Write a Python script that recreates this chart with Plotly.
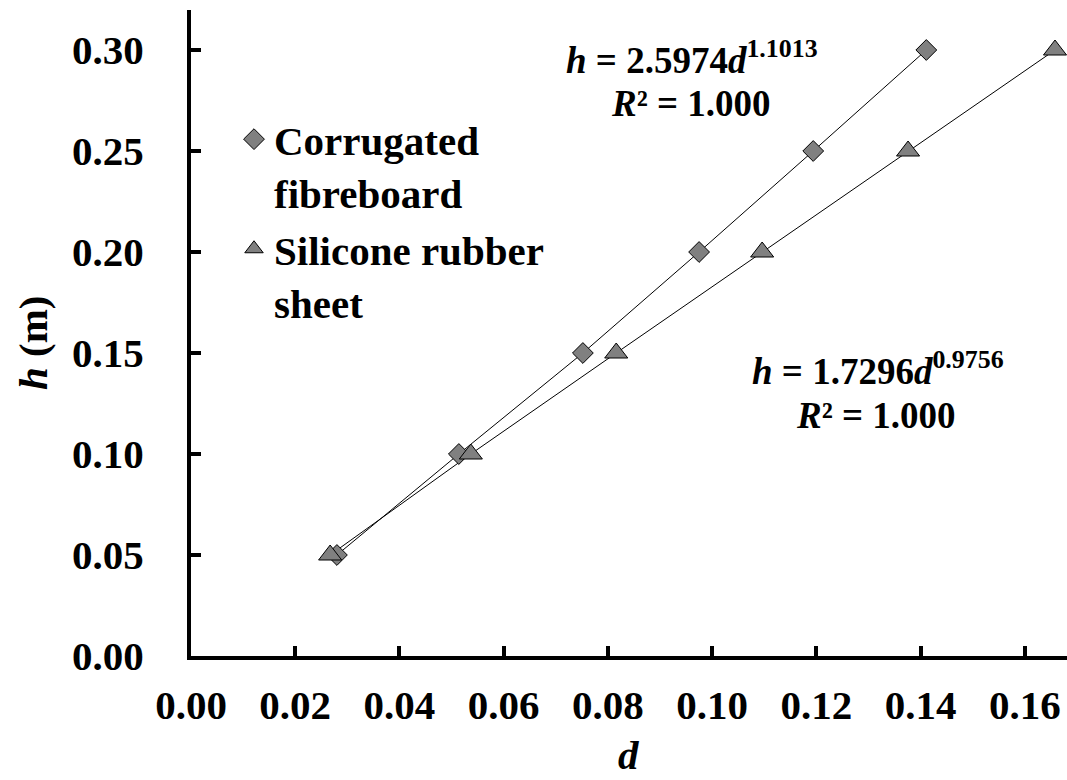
import plotly.graph_objects as go

d_corr = [0.0280, 0.0514, 0.0752, 0.0975, 0.1194, 0.1411]
h_corr = [0.05, 0.10, 0.15, 0.20, 0.25, 0.30]
d_sil = [0.0267, 0.0537, 0.0816, 0.1096, 0.1376, 0.1658]
h_sil = [0.05, 0.10, 0.15, 0.20, 0.25, 0.30]

x_ticks = [0.00, 0.02, 0.04, 0.06, 0.08, 0.10, 0.12, 0.14, 0.16]
y_ticks = [0.00, 0.05, 0.10, 0.15, 0.20, 0.25, 0.30]

FONT = "Times New Roman, Liberation Serif, serif"
GRAY = "#808080"

# plot area in pixels
L, T, B, W = 191, 10, 656, 876
H = B - T


def px(xp):
    return (xp - L) / W


def py(yp):
    return (B - yp) / H


fig = go.Figure()
fig.add_trace(go.Scatter(x=d_corr, y=h_corr, mode="lines",
                         line=dict(color="black", width=1), showlegend=False, hoverinfo="skip"))
fig.add_trace(go.Scatter(x=d_sil, y=h_sil, mode="lines",
                         line=dict(color="black", width=1), showlegend=False, hoverinfo="skip"))
fig.add_trace(go.Scatter(x=d_corr, y=h_corr, mode="markers", name="<b>Corrugated<br>fibreboard</b>",
                         marker=dict(symbol="diamond", size=16, color=GRAY,
                                     line=dict(color="black", width=1))))
fig.add_trace(go.Scatter(x=d_sil, y=h_sil, mode="markers", name="<b>Silicone rubber<br>sheet</b>",
                         marker=dict(symbol="triangle-up", size=20, color=GRAY,
                                     line=dict(color="black", width=1))))

axis_common = dict(showline=True, linecolor="black", linewidth=4, ticks="inside",
                   ticklen=10, tickwidth=4, tickcolor="black", showgrid=False, zeroline=False,
                   tickfont=dict(family=FONT, size=41, color="black"))

fig.update_xaxes(range=[0, 0.1681], tickvals=x_ticks,
                 ticktext=[f"<b>{v:.2f}</b>" for v in x_ticks],
                 ticklabelstandoff=10,
                 **axis_common)
fig.update_yaxes(range=[0, 0.3198], tickvals=y_ticks,
                 ticktext=[f"<b>{v:.2f}</b>" for v in y_ticks],
                 ticklabelstandoff=35,
                 **axis_common)

title_font = dict(family=FONT, size=41, color="black")
fig.add_annotation(xref="paper", yref="paper", x=px(628), y=py(755), xanchor="center",
                   yanchor="middle", text="<b><i>d</i></b>", showarrow=False, font=title_font)
fig.add_annotation(xref="paper", yref="paper", x=px(33), y=py(343), xanchor="center",
                   yanchor="middle", textangle=-90, text="<b><i>h</i> (m)</b>", showarrow=False,
                   font=title_font)

ann_font = dict(family=FONT, size=37, color="black")
fig.add_annotation(xref="paper", yref="paper", x=px(692), y=py(58), xanchor="center",
                   yanchor="middle",
                   text="<b><i>h</i> = 2.5974<i>d</i><sup>1.1013</sup></b>", showarrow=False,
                   font=ann_font)
fig.add_annotation(xref="paper", yref="paper", x=px(691), y=py(103), xanchor="center",
                   yanchor="middle",
                   text="<b><i>R</i>² = 1.000</b>", showarrow=False, font=ann_font)
fig.add_annotation(xref="paper", yref="paper", x=px(878), y=py(368), xanchor="center",
                   yanchor="middle",
                   text="<b><i>h</i> = 1.7296<i>d</i><sup>0.9756</sup></b>", showarrow=False,
                   font=ann_font)
fig.add_annotation(xref="paper", yref="paper", x=px(876), y=py(416), xanchor="center",
                   yanchor="middle",
                   text="<b><i>R</i>² = 1.000</b>", showarrow=False, font=ann_font)

fig.update_layout(
    width=1067, height=780,
    margin=dict(l=L, r=0, t=T, b=780 - B),
    paper_bgcolor="white", plot_bgcolor="white",
    legend=dict(x=px(234), y=py(106), xanchor="left", yanchor="top",
                bgcolor="rgba(0,0,0,0)", valign="top", tracegroupgap=0, itemwidth=30,
                itemsizing="trace",
                font=dict(family=FONT, size=41, color="black")),
    font=dict(family=FONT, color="black"),
)

fig.write_html("out.html")
